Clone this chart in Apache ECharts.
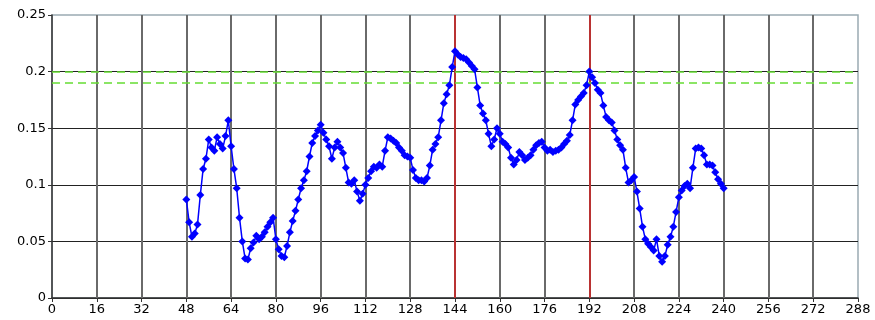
<!DOCTYPE html>
<html>
<head>
<meta charset="utf-8">
<script src="https://cdn.jsdelivr.net/npm/echarts@6/dist/echarts.min.js"></script>
<style>
  html, body { margin: 0; padding: 0; background: #fff; }
  #chart { width: 875px; height: 320px; }
</style>
</head>
<body>
<div id="chart"></div>
<script>
// Sample index of the first reading; readings follow at every step of 1
const startIndex = 48;
const readings = [
  0.087, 0.067, 0.054, 0.057, 0.065, 0.091, 0.114, 0.123, 0.140, 0.133,
  0.130, 0.142, 0.136, 0.132, 0.143, 0.157, 0.134, 0.114, 0.097, 0.071,
  0.050, 0.035, 0.034, 0.044, 0.049, 0.055, 0.052, 0.054, 0.058, 0.063,
  0.067, 0.071, 0.052, 0.043, 0.037, 0.036, 0.046, 0.058, 0.068, 0.077,
  0.087, 0.097, 0.104, 0.112, 0.125, 0.137, 0.143, 0.148, 0.153, 0.146,
  0.140, 0.134, 0.123, 0.133, 0.138, 0.133, 0.128, 0.115, 0.102, 0.101,
  0.104, 0.094, 0.086, 0.092, 0.100, 0.106, 0.112, 0.116, 0.115, 0.118,
  0.116, 0.130, 0.142, 0.141, 0.139, 0.137, 0.133, 0.130, 0.126, 0.125,
  0.124, 0.113, 0.106, 0.104, 0.104, 0.103, 0.106, 0.117, 0.131, 0.136,
  0.142, 0.157, 0.172, 0.180, 0.188, 0.204, 0.218, 0.215, 0.213, 0.212,
  0.211, 0.208, 0.205, 0.202, 0.186, 0.170, 0.163, 0.157, 0.145, 0.134,
  0.140, 0.150, 0.145, 0.138, 0.136, 0.133, 0.124, 0.118, 0.122, 0.129,
  0.126, 0.122, 0.124, 0.126, 0.131, 0.135, 0.137, 0.138, 0.133, 0.130,
  0.131, 0.129, 0.130, 0.131, 0.133, 0.136, 0.139, 0.144, 0.157, 0.171,
  0.175, 0.178, 0.181, 0.188, 0.200, 0.195, 0.190, 0.184, 0.181, 0.170,
  0.160, 0.157, 0.155, 0.148, 0.140, 0.135, 0.131, 0.115, 0.102, 0.104,
  0.107, 0.094, 0.079, 0.063, 0.052, 0.048, 0.045, 0.042, 0.052, 0.037,
  0.032, 0.037, 0.047, 0.054, 0.063, 0.076, 0.089, 0.095, 0.099, 0.101,
  0.097, 0.115, 0.132, 0.133, 0.132, 0.126, 0.118, 0.118, 0.117, 0.111,
  0.105, 0.101, 0.097
];

// Reference levels (horizontal dashed) and marked positions (vertical)
const thresholdLevels = [0.2, 0.19];
const markedPositions = [144, 192];

// Axis ranges
const xRange = { min: 0, max: 288, step: 16 };
const yRange = { min: 0, max: 0.25, step: 0.05 };

const points = readings.map((v, i) => [startIndex + i, v]);

// Vertical grid positions at every inner x tick (the outer edges are the frame)
const xGridTicks = [];
for (let t = xRange.min + xRange.step; t < xRange.max; t += xRange.step) xGridTicks.push(t);

const chart = echarts.init(document.getElementById('chart'), null, { renderer: 'canvas' });

const labelFont = { fontFamily: 'DejaVu Sans, Verdana, sans-serif', fontSize: 13, color: '#000' };

chart.setOption({
  animation: false,
  backgroundColor: '#fff',
  grid: { left: 52, right: 17, top: 15, bottom: 22, show: true, backgroundColor: 'transparent', borderColor: '#9aabb3', borderWidth: 1.5 },
  xAxis: {
    type: 'value',
    min: xRange.min, max: xRange.max, interval: xRange.step,
    axisLine: { show: true, onZero: false, lineStyle: { color: '#333', width: 1.5 } },
    axisTick: { show: true, length: 4, lineStyle: { color: '#333' } },
    axisLabel: Object.assign({ margin: 5 }, labelFont),
    splitLine: { show: false }
  },
  yAxis: {
    type: 'value',
    min: yRange.min, max: yRange.max, interval: yRange.step,
    axisLine: { show: true, lineStyle: { color: '#333', width: 1.5 } },
    axisTick: { show: true, length: 4, lineStyle: { color: '#333' } },
    axisLabel: Object.assign({ margin: 6 }, labelFont),
    splitLine: { show: true, showMaxLine: false, lineStyle: { color: '#222', width: 1 } }
  },
  series: [
    {
      // carrier for the vertical grid lines, drawn beneath the readings
      type: 'line',
      data: [[xRange.min, yRange.min]],
      showSymbol: false,
      symbol: 'none',
      lineStyle: { opacity: 0 },
      silent: true,
      z: 1,
      markLine: {
        silent: true,
        symbol: 'none',
        label: { show: false },
        lineStyle: { color: '#6a6a6a', width: 2, type: 'solid' },
        data: xGridTicks.map(x => ({ xAxis: x }))
      }
    },
    {
      type: 'line',
      data: points,
      symbol: 'diamond',
      symbolSize: 8,
      itemStyle: { color: '#0000ff' },
      lineStyle: { color: '#0000ff', width: 1.5 },
      z: 5,
      markLine: {
        silent: true,
        symbol: 'none',
        label: { show: false },
        data: [
          ...markedPositions.map(x => ({ xAxis: x, lineStyle: { color: '#d42020', width: 1.5, type: 'solid' } })),
          ...thresholdLevels.map(y => ({ yAxis: y, lineStyle: { color: '#66dd33', width: 1.5, type: [8, 5] } }))
        ]
      }
    }
  ]
});
</script>
</body>
</html>
